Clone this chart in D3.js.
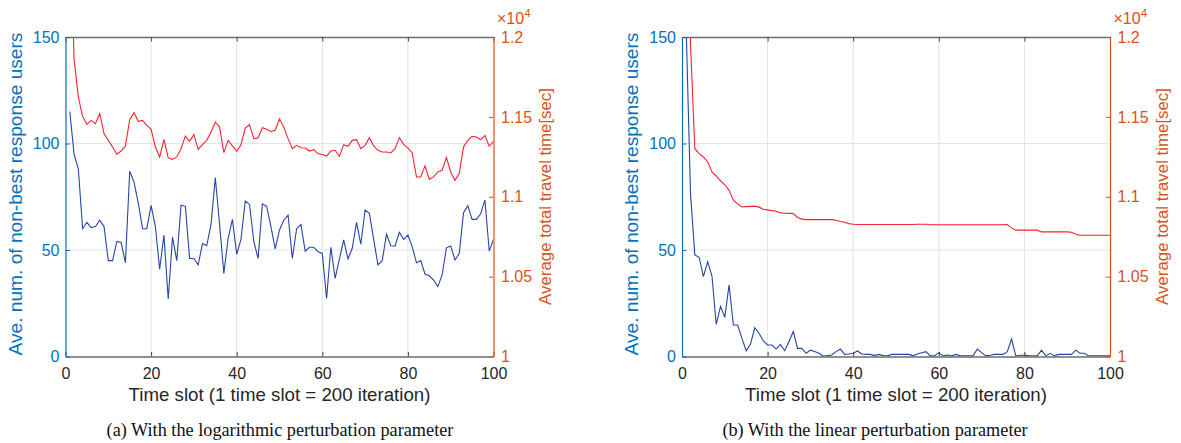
<!DOCTYPE html>
<html><head><meta charset="utf-8">
<script src="https://cdn.jsdelivr.net/npm/d3@7"></script>
<style>body{margin:0;background:#fff;} svg{display:block;}</style>
</head><body>
<svg id="c" width="1181" height="443"></svg>
<script>
const timeSlots = d3.range(1, 101);
const logUsers = [115,95,88,60,63,60.5,61,64,61,45, 45,54,53.5,44,87,82,72,60,60,71, 61,41,57,27,56,45,71,70.5,46,46, 43,53,52,62,84,62,39,55.5,64.4,48, 55,73,71.4,54,46,71.6,70.5,61,50.5,59.4, 64,66.4,46,60,62,49.5,51.3,51.3,49.2,48.4, 27.3,51.3,36.7,45.8,54.7,45.8,50.8,63,52.7,68.8, 67.2,55,43,45,57.4,52,51.9,58.3,55,57, 51.6,44,45,38.6,37.9,35.9,32.8,38.3,51,51.9, 45.3,48.4,67.5,70.8,64.4,64.4,67,73.5,49.5,55];
const logTravel = [12800,11864,11624,11503,11453,11478,11457,11520,11395,11353, 11311,11266,11286,11318,11482,11526,11472,11478,11447,11422, 11311,11249,11359,11243,11234,11249,11301,11380,11347,11389, 11297,11326,11353,11405,11468,11436,11276,11353,11318,11284, 11326,11430,11451,11364,11368,11432,11422,11409,11416,11488, 11436,11364,11301,11322,11307,11305,11286,11295,11270,11264, 11255,11286,11291,11253,11326,11316,11353,11357,11301,11322, 11370,11318,11291,11280,11280,11274,11301,11370,11328,11305, 11276,11124,11124,11193,11109,11124,11155,11166,11245,11155, 11103,11145,11311,11353,11378,11374,11357,11384,11316,11347];
const linUsers = [152,76,47.7,46.6,37.5,44.5,37.8,15.1,23.6,18.4, 33.6,14.8,14.8,8.5,2.7,5.9,13.5,10.9,7.3,5.4, 5.4,3.5,5.7,2.7,7,11.7,3.8,3.8,1.5,3, 2.3,1.5,0.2,0.4,0.7,2.3,3.5,1,1.2,1.5, 2.6,1.2,1,1,0.4,1,0.4,0.3,1,1, 1,1,1,0.3,1.2,1.8,2.3,0.3,0.3,1.8, 0.3,0.7,0.3,1,0.3,0.3,0.3,0.3,3.5,1.8, 0.3,0.6,1,1,1,2.3,8.2,0.3,0.5,0.7, 0.3,0.3,0.3,3,0.3,1.5,0.3,1,1,1, 1,3,1.5,1.5,0.3,0.3,0.3,0.3,0.3,0.3];
const linTravel = [13500,11950,11301,11270,11249,11218,11155,11130,11100,11075, 11040,10978,10955,10936,10938,10940,10941,10935,10922,10918, 10913,10909,10899,10897,10896,10895,10870,10860,10857,10857, 10857,10857,10857,10857,10857,10853,10845,10840,10832,10828, 10826,10826,10826,10826,10826,10826,10826,10826,10826,10826, 10826,10826,10826,10826,10828,10828,10828,10825,10825,10825, 10825,10825,10825,10825,10825,10825,10825,10825,10825,10825, 10825,10825,10825,10825,10825,10826,10805,10791,10791,10791, 10791,10791,10791,10780,10780,10780,10780,10780,10780,10780, 10778,10765,10759,10759,10759,10759,10759,10759,10759,10759];
const xTickValues = [0,20,40,60,80,100];
const leftTickValues = [0,50,100,150];
const rightTickValues = [10000,10500,11000,11500,12000];
const rightTickLabels = ["1","1.05","1.1","1.15","1.2"];
const xTitle = "Time slot (1 time slot = 200 iteration)";
const leftTitle = "Ave. num. of non-best response users";
const rightTitle = "Average total travel time[sec]";
const captions = ["(a) With the logarithmic perturbation parameter", "(b) With the linear perturbation parameter"];

const BLUE_AX = "#0072BD", ORANGE_AX = "#D95319", BLUE_LINE = "#2745a6", RED_LINE = "#f5222f";
const SANS = "'Liberation Sans', Arial, Helvetica, sans-serif";
const SERIF = "'Liberation Serif', 'Times New Roman', serif";
const svg = d3.select("#c");
const W = 428, H = 319.5, Y0 = 37;
const panels = [
  {x0: 65.5, users: logUsers, travel: logTravel, caption: captions[0], capX: 280},
  {x0: 682, users: linUsers, travel: linTravel, caption: captions[1], capX: 875}
];

function fitFont(sel, target, base) {
  sel.style("font-size", base + "px");
  const w = sel.node().getComputedTextLength();
  sel.style("font-size", (base * target / w) + "px");
}

let capFont = null;
panels.forEach((p, i) => {
  const x = d3.scaleLinear().domain([0, 100]).range([p.x0, p.x0 + W]);
  const yL = d3.scaleLinear().domain([0, 150]).range([Y0 + H, Y0]);
  const yR = d3.scaleLinear().domain([10000, 12000]).range([Y0 + H, Y0]);
  const g = svg.append("g");

  // grid
  g.append("g").selectAll("line").data(xTickValues.slice(1, -1)).join("line")
    .attr("x1", d => x(d)).attr("x2", d => x(d)).attr("y1", Y0).attr("y2", Y0 + H)
    .attr("stroke", "#e3e3e3").attr("stroke-width", 1);
  g.append("g").selectAll("line").data(leftTickValues.slice(1, -1)).join("line")
    .attr("x1", p.x0).attr("x2", p.x0 + W).attr("y1", d => yL(d)).attr("y2", d => yL(d))
    .attr("stroke", "#e2e4f2").attr("stroke-width", 1);

  // clip
  const cid = "clip" + i;
  svg.append("clipPath").attr("id", cid).append("rect")
    .attr("x", p.x0).attr("y", Y0).attr("width", W).attr("height", H);

  const lineU = d3.line().x((d, k) => x(timeSlots[k])).y(d => yL(d));
  const lineT = d3.line().x((d, k) => x(timeSlots[k])).y(d => yR(d));
  g.append("path").datum(p.travel).attr("d", lineT).attr("fill", "none")
    .attr("stroke", RED_LINE).attr("stroke-width", 1.1).attr("clip-path", `url(#${cid})`);
  g.append("path").datum(p.users).attr("d", lineU).attr("fill", "none")
    .attr("stroke", BLUE_LINE).attr("stroke-width", 1.1).attr("clip-path", `url(#${cid})`);

  // axes
  const ax = g.append("g").attr("transform", `translate(0,${Y0 + H})`)
    .call(d3.axisBottom(x).tickValues(xTickValues).tickSizeInner(-4.5).tickSizeOuter(0).tickPadding(11.5));
  ax.select(".domain").attr("stroke", "#6b6b6b").attr("stroke-width", 1.3);
  ax.selectAll(".tick line").attr("stroke", "#444");
  ax.selectAll(".tick text").attr("fill", "#262626").style("font-family", SANS).style("font-size", "16px");

  const axT = g.append("g").attr("transform", `translate(0,${Y0})`)
    .call(d3.axisTop(x).tickValues(xTickValues).tickSizeInner(-4.5).tickSizeOuter(0).tickFormat(""));
  axT.select(".domain").attr("stroke", "#6b6b6b").attr("stroke-width", 1.3);
  axT.selectAll(".tick line").attr("stroke", "#444");

  const axL = g.append("g").attr("transform", `translate(${p.x0},0)`)
    .call(d3.axisLeft(yL).tickValues(leftTickValues).tickSizeInner(-4.5).tickSizeOuter(0).tickPadding(6));
  axL.select(".domain").attr("stroke", BLUE_AX).attr("stroke-width", 1.2);
  axL.selectAll(".tick line").attr("stroke", BLUE_AX);
  axL.selectAll(".tick text").attr("fill", BLUE_AX).style("font-family", SANS).style("font-size", "16px");

  const axR = g.append("g").attr("transform", `translate(${p.x0 + W},0)`)
    .call(d3.axisRight(yR).tickValues(rightTickValues).tickSizeInner(-4.5).tickSizeOuter(0).tickPadding(7.5)
      .tickFormat((d, k) => rightTickLabels[k]));
  axR.select(".domain").attr("stroke", ORANGE_AX).attr("stroke-width", 1.2);
  axR.selectAll(".tick line").attr("stroke", ORANGE_AX);
  axR.selectAll(".tick text").attr("fill", ORANGE_AX).style("font-family", SANS).style("font-size", "16px");

  // exponent
  const ex = g.append("text").attr("x", p.x0 + W + 3.5).attr("y", 24)
    .attr("fill", ORANGE_AX).style("font-family", SANS).style("font-size", "16px");
  ex.append("tspan").text("×10");
  ex.append("tspan").attr("dy", -7).style("font-size", "11.5px").text("4");

  // titles
  const xt = g.append("text").attr("x", p.x0 + W / 2).attr("y", 400.5).attr("text-anchor", "middle")
    .attr("fill", "#262626").style("font-family", SANS).text(xTitle);
  fitFont(xt, 302, 18);

  const lt = g.append("text").attr("transform", `translate(${p.x0 - 44},194) rotate(-90)`)
    .attr("text-anchor", "middle").attr("fill", BLUE_AX).style("font-family", SANS).text(leftTitle);
  fitFont(lt, 323, 18);

  const rt = g.append("text").attr("transform", `translate(${p.x0 + W + 57.5},196.5) rotate(-90)`)
    .attr("text-anchor", "middle").attr("fill", ORANGE_AX).style("font-family", SANS).text(rightTitle);
  fitFont(rt, 217, 17);

  const ct = svg.append("text").attr("x", p.capX).attr("y", 436).attr("text-anchor", "middle")
    .attr("fill", "#111").style("font-family", SERIF).text(p.caption);
  if (i === 0) { fitFont(ct, 347, 16); capFont = ct.style("font-size"); }
  else ct.style("font-size", capFont);
});
</script>
</body></html>
